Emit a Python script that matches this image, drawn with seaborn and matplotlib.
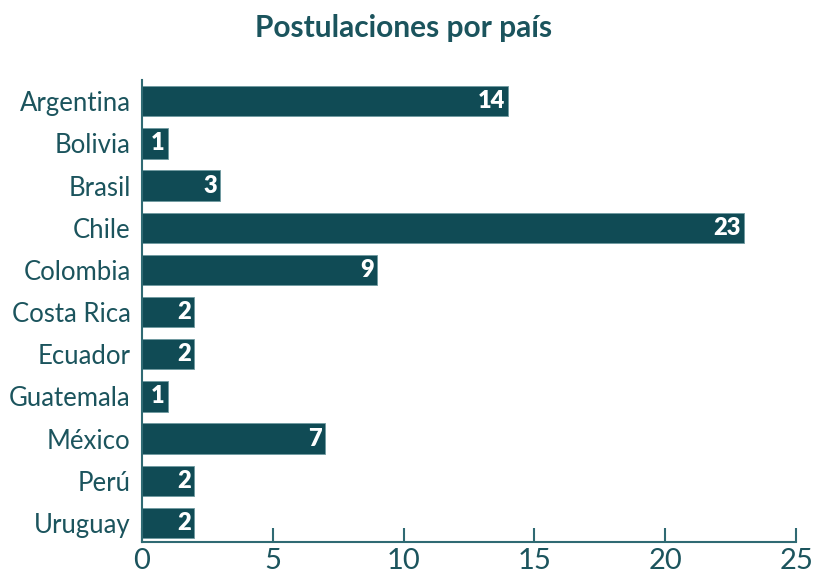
import matplotlib
matplotlib.use("Agg")
import matplotlib.pyplot as plt
import seaborn as sns
import pandas as pd

paises = ["Argentina", "Bolivia", "Brasil", "Chile", "Colombia", "Costa Rica",
          "Ecuador", "Guatemala", "México", "Perú", "Uruguay"]
postulaciones = [14, 1, 3, 23, 9, 2, 2, 1, 7, 2, 2]
xticks = [0, 5, 10, 15, 20, 25]

sns.set_theme(style="white")
plt.rcParams['font.family'] = ['Lato', 'DejaVu Sans']

bar_color = "#104b55"
text_color = "#1b545d"
spine_color = "#2f6a73"

df = pd.DataFrame({"pais": paises, "n": postulaciones})

fig = plt.figure(figsize=(8.15, 5.76), dpi=100)
ax = fig.add_axes([0.174, 0.059, 0.803, 0.802])
sns.barplot(data=df, x="n", y="pais", color=bar_color, saturation=1,
            width=0.72, ax=ax, orient="h", edgecolor="#6f9aa0", linewidth=0.6)

for p, v in zip(ax.patches, postulaciones):
    ax.text(p.get_width() - 0.12, p.get_y() + p.get_height() / 2, str(v),
            ha="right", va="center", color="white", fontsize=17,
            fontweight="heavy")

ax.set_xlim(0, 25)
ax.set_ylim(10.45, -0.5)
ax.set_xticks(xticks)
ax.set_xticklabels([str(t) for t in xticks])
ax.set_xlabel("")
ax.set_ylabel("")
for s in ["top", "right"]:
    ax.spines[s].set_visible(False)
for s in ["left", "bottom"]:
    ax.spines[s].set_color(spine_color)
    ax.spines[s].set_linewidth(1.5)
ax.tick_params(axis="x", direction="in", length=10, width=1.5, color=spine_color,
               labelsize=21, labelcolor=text_color, pad=4, bottom=True)
ax.tick_params(axis="y", length=0, labelsize=18.5, labelcolor=text_color, pad=8)
fig.suptitle("Postulaciones por país", x=0.495, y=0.975, fontsize=21.5,
             fontweight="bold", color=text_color)

fig.savefig("out.png", dpi=100)
